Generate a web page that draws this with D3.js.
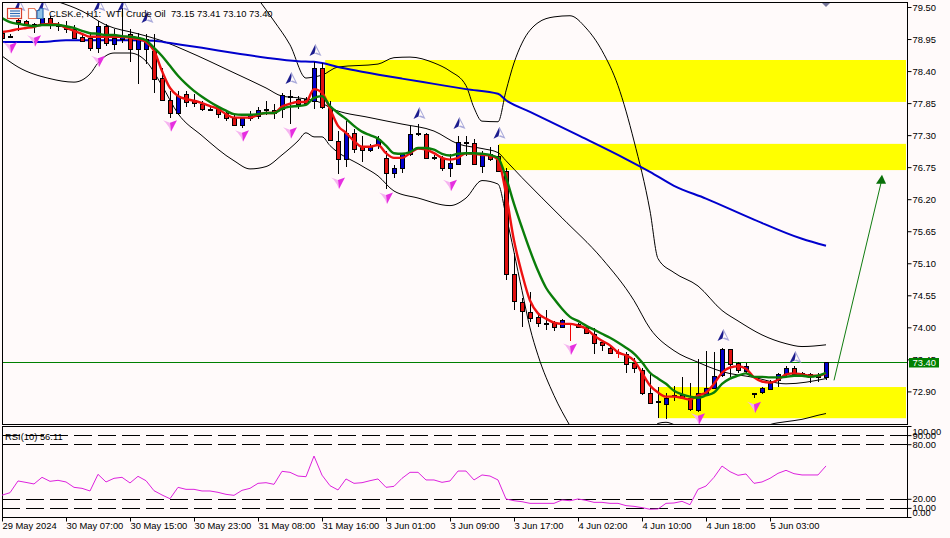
<!DOCTYPE html>
<html>
<head>
<meta charset="utf-8">
<title>CLSK.e H1</title>
<script src="https://cdn.jsdelivr.net/npm/d3@7"></script>
<style>
  html, body { margin: 0; padding: 0; background: #fffafa; }
  svg { display: block; }
  text { font-family: "Liberation Sans", sans-serif; font-size: 9.4px; fill: #000; }
</style>
</head>
<body>
<div id="chart"></div>
<script>
// candles, one per hour
const opens = [79.05,79.01,79.27,79.26,79.20,79.21,79.31,79.19,79.17,79.12,78.99,78.97,78.80,79.17,78.87,78.95,79.04,78.78,78.78,78.75,78.28,77.90,77.67,78.01,77.90,77.84,77.75,77.75,77.68,77.60,77.48,77.60,77.63,77.74,77.73,77.75,77.96,77.92,77.92,77.89,78.45,77.77,77.20,76.89,77.34,77.12,77.05,77.13,76.91,76.65,76.74,76.98,77.32,77.32,76.92,76.91,76.74,76.81,77.19,77.17,76.77,76.98,76.95,76.69,74.92,74.44,74.27,74.17,74.07,74.08,74.01,74.05,74.06,74.01,73.89,73.74,73.65,73.57,73.55,73.38,73.27,72.88,72.73,72.69,72.82,72.83,72.78,72.59,72.85,72.97,73.17,73.63,73.38,73.24,72.88,72.88,72.95,73.10,73.21,73.31,73.21,73.20,73.17,73.15];
const highs = [79.11,79.03,79.40,79.28,79.23,79.43,79.35,79.24,79.26,79.19,79.05,79.04,79.26,79.21,79.12,79.48,79.12,79.05,79.04,79.04,78.45,78.06,78.06,78.06,78.00,77.89,77.78,77.78,77.72,77.67,77.61,77.72,77.78,77.89,77.84,78.03,78.08,77.97,77.96,78.56,78.54,77.89,77.37,77.54,77.41,77.29,77.15,77.29,77.03,76.79,76.99,77.46,77.49,77.34,76.96,76.95,76.98,77.29,77.29,77.24,77.03,77.10,77.13,76.74,75.28,74.51,74.60,74.22,74.29,74.11,74.15,74.08,74.08,74.03,73.99,73.77,73.69,73.62,73.57,73.48,73.31,73.21,72.97,72.88,73.00,73.15,73.05,73.45,73.60,73.57,73.65,73.63,73.41,73.38,72.88,72.97,73.09,73.22,73.33,73.33,73.24,73.22,73.21,73.41];
const lows = [78.93,78.96,79.09,79.19,79.05,79.19,79.12,79.09,79.05,78.95,78.90,78.75,78.71,78.83,78.76,78.88,78.56,78.18,78.52,78.03,77.88,77.60,77.65,77.78,77.78,77.72,77.72,77.60,77.54,77.46,77.42,77.54,77.58,77.65,77.58,77.60,77.49,77.75,77.82,77.75,77.75,77.20,76.64,76.76,77.00,76.84,77.01,77.07,76.38,76.57,76.65,76.95,77.29,76.89,76.88,76.69,76.58,76.79,76.95,76.79,76.65,76.86,76.67,74.82,74.30,74.01,74.10,74.01,73.96,73.94,73.98,73.77,73.99,73.88,73.55,73.60,73.55,73.48,73.22,73.22,72.83,72.71,72.45,72.43,72.74,72.78,72.57,72.55,72.83,72.97,73.14,73.14,73.21,73.21,72.78,72.85,72.93,72.97,73.17,73.16,73.14,73.05,73.06,73.10];
const closes = [78.97,79.00,79.24,79.21,79.18,79.31,79.19,79.18,79.11,78.97,78.92,78.80,79.17,78.88,78.97,79.00,78.78,78.97,78.95,78.27,77.90,77.67,77.97,77.87,77.85,77.75,77.74,77.67,77.60,77.48,77.60,77.67,77.73,77.75,77.67,77.99,77.98,77.84,77.85,78.45,77.78,77.22,76.89,77.34,77.07,77.05,77.10,77.24,76.65,76.74,76.98,77.32,77.33,76.91,76.91,76.74,76.82,77.19,77.18,76.81,76.96,76.89,76.69,74.92,74.46,74.29,74.17,74.06,74.06,74.01,74.13,74.05,74.01,73.91,73.74,73.69,73.57,73.56,73.38,73.29,72.88,72.71,72.72,72.79,72.83,72.80,72.59,72.88,72.95,73.17,73.62,73.38,73.26,73.33,72.87,72.95,73.05,73.20,73.31,73.21,73.20,73.17,73.16,73.40];
const crossBarsRed = [71, 77];

// fast and slow averages, one value per candle
const fastMa = [79.07,79.09,79.12,79.14,79.16,79.20,79.21,79.20,79.14,79.09,79.04,78.99,78.99,78.99,78.99,78.99,78.97,78.95,78.90,78.75,78.40,78.11,77.97,77.92,77.89,77.85,77.80,77.75,77.66,77.60,77.60,77.60,77.65,77.68,77.68,77.79,77.84,77.87,77.87,78.09,78.03,77.75,77.46,77.34,77.20,77.10,77.10,77.13,76.99,76.91,76.91,76.99,77.07,77.05,76.99,76.91,76.88,76.91,76.99,76.98,76.96,76.95,76.88,76.29,75.49,74.92,74.46,74.24,74.15,74.08,74.06,74.06,74.03,73.98,73.86,73.77,73.69,73.57,73.52,73.43,73.22,73.00,72.88,72.81,72.81,72.79,72.76,72.83,72.88,73.03,73.22,73.31,73.33,73.29,73.14,73.07,73.05,73.10,73.19,73.21,73.19,73.17,73.17,73.21];
const slowMa = [79.31,79.24,79.21,79.19,79.17,79.19,79.19,79.19,79.17,79.14,79.09,79.05,79.04,79.02,79.02,79.00,78.99,78.97,78.93,78.80,78.66,78.49,78.32,78.18,78.06,77.96,77.87,77.79,77.72,77.66,77.65,77.65,77.66,77.68,77.68,77.75,77.79,77.80,77.82,77.94,77.97,77.80,77.68,77.58,77.46,77.36,77.30,77.24,77.12,76.99,76.98,77.01,77.08,77.08,77.05,76.98,76.95,76.98,76.99,76.99,76.98,76.96,76.91,76.57,76.12,75.71,75.32,74.97,74.68,74.49,74.32,74.18,74.11,74.03,73.96,73.89,73.82,73.74,73.65,73.55,73.40,73.22,73.12,73.03,72.91,72.85,72.81,72.79,72.83,72.88,73.03,73.12,73.17,73.21,73.15,73.15,73.14,73.14,73.15,73.17,73.17,73.15,73.17,73.22];

// long average, read at a handful of bars
const longBars = [0,5,8,12,16,19,21,25,29,33,37,39,40,42,45,50,54,58,62,63,66,72,78,81,84,88,94,100,103];
const longVals = [78.90,78.90,78.93,78.93,78.93,78.92,78.88,78.80,78.71,78.63,78.57,78.56,78.54,78.47,78.39,78.27,78.18,78.09,78.01,77.90,77.70,77.30,76.89,76.67,76.43,76.21,75.85,75.52,75.40];

// envelope lines, read at the bends
const upperBars = [32,34,36,38,39,40,42,47,49,51,54,56,58,59,60,62,63,64,65,67,69,71,73,75,77,79,81,82,84,87,90,92,95,98,100,103];
const upperVals = [79.64,79.26,78.85,78.28,78.30,78.33,78.47,78.52,78.63,78.64,78.54,78.40,78.15,77.77,77.54,77.53,78.06,78.54,78.88,79.23,79.33,79.35,79.14,78.75,78.15,77.20,76.00,75.18,74.94,74.71,74.29,74.11,73.87,73.72,73.67,73.70];
const midBars = [7,10,13,17,20,23,29,33,35,37,40,41,46,50,54,57,60,62,63,65,70,75,79,81,84,87,90,94,98,103];
const midVals = [79.59,79.43,79.19,79.04,78.92,78.75,78.37,78.11,77.97,77.94,77.85,77.77,77.60,77.49,77.37,77.15,77.07,77.00,76.86,76.57,75.88,75.18,74.46,73.98,73.60,73.40,73.24,73.14,73.03,73.12];
const lowerBars = [0,2,6,9,11,12,14,16,18,20,22,25,29,31,33,35,37,38,39,40,41,45,47,49,52,56,58,60,62,63,65,66,67,69,71,74,78,81,82,83,84,88,92,96,98,100,102,103];
const lowerVals = [78.66,78.47,78.27,78.21,78.35,78.54,78.71,78.71,78.57,78.15,77.67,77.29,76.86,76.72,76.76,76.96,77.20,77.34,77.27,77.27,77.12,76.77,76.60,76.34,76.22,76.09,76.22,76.52,76.46,75.92,74.63,73.99,73.52,72.83,72.31,71.71,71.54,72.06,72.35,72.37,72.33,71.97,71.97,72.33,72.38,72.42,72.49,72.52];

// supply / demand zones: first bar, top price, bottom price
const zoneStart = [40.4, 62.1, 82];
const zoneTop = [78.59, 77.15, 72.975];
const zoneBottom = [77.87, 76.70, 72.44];

// signal arrows
const upArrowBars = [2,5,12,15,18,36,39,52,57,62,90,99];
const upArrowVals = [79.53,79.53,79.53,79.53,79.33,78.28,78.76,77.68,77.51,77.34,73.87,73.49];
const downArrowBars = [1,4,12,21,30,36,42,48,56,71,87,94];
const downArrowVals = [78.80,78.92,78.57,77.46,77.29,77.34,76.48,76.22,76.44,73.63,72.43,72.63];

const rsiVals = [24,26.7,39.6,38,36.3,43.6,39.2,40.3,38.5,32.6,31.5,28.6,46.9,38.5,42.5,43.6,37.4,44.7,39.9,28.9,24.2,20.1,32.6,30.4,30.4,28.6,28.6,27.1,24.9,23.8,29.3,31.5,37,37.7,35.9,50.2,49.1,45,44.3,67,46,34.4,29.7,41.8,37,37.7,39.9,41.8,32.6,33.7,42.5,49.1,49.1,40.7,40.7,38.1,39.6,50.5,50.5,40.7,46.2,45,40.7,19.8,17.9,16.8,15,15,15,15,18.7,17.9,19.8,18.3,16.1,16.1,15,15,12.5,11.7,10.3,8.5,8.8,15,15.4,17.2,13.5,30.4,34,43.6,56,49.8,45.8,47.3,37,38.5,42.5,48,51.3,47.6,46.2,46.2,46.2,56.11];
const rsiLevels = [90, 80, 20, 10];
const rsiTicks = [100, 90, 80, 20, 10, 0];

const priceTicks = [79.50,78.95,78.40,77.85,77.30,76.75,76.20,75.65,75.10,74.55,74.00,73.45,72.90];
const timeBars = [0,8,16,24,32,40,48,56,64,72,80,88,96];
const timeLabels = ["29 May 2024","30 May 07:00","30 May 15:00","30 May 23:00","31 May 08:00","31 May 16:00","3 Jun 01:00","3 Jun 09:00","3 Jun 17:00","4 Jun 02:00","4 Jun 10:00","4 Jun 18:00","5 Jun 03:00"];

const lastPrice = 73.40;
const targetBars = [104, 110];
const targetVals = [73.09, 76.55];
const titleText = "CLSK.e, H1:  WTI Crude Oil  73.15 73.41 73.10 73.40";
const rsiTitle = "RSI(10) 56.11";

const width = 950, height = 538;
const left = 2, right = 907;
const mainTop = 2, mainBottom = 424, rsiTop = 426, rsiBottom = 517;

const svg = d3.select("#chart").append("svg").attr("width", width).attr("height", height);

const x = d3.scaleLinear().domain([0, 113.125]).range([left, right]);
const y = d3.scaleLinear().domain([79.5, 72.9]).range([7, 391.4]);
const yRsi = d3.scaleLinear().domain([0, 100]).range([rsiBottom, rsiTop]);

svg.append("rect").attr("width", width).attr("height", height).attr("fill", "#fffafa");

const defs = svg.append("defs");
defs.append("clipPath").attr("id", "main-clip").append("rect")
  .attr("x", left).attr("y", mainTop).attr("width", right - left).attr("height", mainBottom - mainTop);
defs.append("clipPath").attr("id", "rsi-clip").append("rect")
  .attr("x", left).attr("y", rsiTop).attr("width", right - left).attr("height", rsiBottom - rsiTop);

const main = svg.append("g").attr("clip-path", "url(#main-clip)");

// zones sit under everything
main.selectAll(".zone").data(zoneStart).enter().append("rect")
  .attr("class", "zone")
  .attr("x", (d) => x(d))
  .attr("y", (d, i) => y(zoneTop[i]))
  .attr("width", (d) => right - 1 - x(d))
  .attr("height", (d, i) => y(zoneBottom[i]) - y(zoneTop[i]))
  .attr("fill", "#ffff00");

main.append("line")
  .attr("x1", left).attr("x2", right)
  .attr("y1", Math.round(y(lastPrice)) + 0.5).attr("y2", Math.round(y(lastPrice)) + 0.5)
  .attr("stroke", "#008000");

// thin envelope lines
const sparseLine = (bars, vals) => d3.line().x((d) => x(d)).y((d, i) => y(vals[i])).curve(d3.curveMonotoneX)(bars);
[[upperBars, upperVals], [midBars, midVals], [lowerBars, lowerVals]].forEach(([bars, vals]) => {
  main.append("path").attr("d", sparseLine(bars, vals)).attr("fill", "none").attr("stroke", "#000").attr("stroke-width", 1);
});

main.append("path").attr("d", sparseLine(longBars, longVals)).attr("fill", "none").attr("stroke", "#0000cd").attr("stroke-width", 2);

// candles
const candles = main.selectAll(".candle").data(opens).enter().append("g").attr("class", "candle");
const crispX = (i) => Math.round(x(i)) + 0.5;
const lineColor = (i) => (crossBarsRed.includes(i) ? "#ee0000" : "#000");
candles.append("line")
  .attr("x1", (d, i) => crispX(i)).attr("x2", (d, i) => crispX(i))
  .attr("y1", (d, i) => y(highs[i])).attr("y2", (d, i) => y(lows[i]))
  .attr("stroke", (d, i) => lineColor(i))
  .attr("shape-rendering", "crispEdges");
candles.append("rect")
  .attr("x", (d, i) => crispX(i) - 2)
  .attr("y", (d, i) => Math.round(y(Math.max(opens[i], closes[i]))) + 0.5)
  .attr("width", 4)
  .attr("height", (d, i) => Math.max(Math.round(y(Math.min(opens[i], closes[i])) - y(Math.max(opens[i], closes[i]))), 0))
  .attr("fill", (d, i) => (closes[i] > opens[i] ? "#0000cc" : "#e01010"))
  .attr("stroke", (d, i) => lineColor(i))
  .attr("shape-rendering", "crispEdges");

// the two fast averages go over the candles
const maLine = d3.line().x((d, i) => x(i)).y((d) => y(d)).curve(d3.curveMonotoneX);
main.append("path").attr("d", maLine(fastMa)).attr("fill", "none").attr("stroke", "#ee1111").attr("stroke-width", 2.4);
main.append("path").attr("d", maLine(slowMa)).attr("fill", "none").attr("stroke", "#0a7d0a").attr("stroke-width", 2.4);

// arrows, two halves each
const upDark = "M0,-6L-6,6L-1,3.5L0,-1Z";
const upLight = "M0,-6L6,6L-1,3.5L1,2.5L3.8,3.6L0,-3.5Z";
const downLight = "M-7,-5.5L0,-3L1,6L-1,1.5L-4.5,-3.3Z";
const downDark = "M7,-5.5L0,-3L1,6Z";
const upG = main.selectAll(".up-arrow").data(upArrowBars).enter().append("g")
  .attr("class", "up-arrow")
  .attr("transform", (d, i) => `translate(${x(d) + 1.5},${y(upArrowVals[i])})`);
upG.append("path").attr("d", upDark).attr("fill", "#1c1c8e");
upG.append("path").attr("d", upLight).attr("fill", "#a9a9da");
const downG = main.selectAll(".down-arrow").data(downArrowBars).enter().append("g")
  .attr("class", "down-arrow")
  .attr("transform", (d, i) => `translate(${x(d)},${y(downArrowVals[i])})`);
downG.append("path").attr("d", downLight).attr("fill", "#f6b4f0");
downG.append("path").attr("d", downDark).attr("fill", "#e62ee0");

// clipped marker at the very top right
main.append("path")
  .attr("transform", `translate(${x(103)},2)`)
  .attr("d", "M-5,0L5,0L0,5Z").attr("fill", "#77779a");

// target arrow drawn by hand on the chart
const tx = targetBars.map((d) => x(d));
const ty = targetVals.map((d) => y(d));
svg.append("line").attr("x1", tx[0]).attr("y1", ty[0]).attr("x2", tx[1]).attr("y2", ty[1]).attr("stroke", "#107c10").attr("stroke-width", 1);
svg.append("path")
  .attr("transform", `translate(${tx[1]},${ty[1]})`)
  .attr("d", "M0,-4L-6,5L4,5Z").attr("fill", "#0a700a");

// frames
svg.append("rect").attr("x", left + 0.5).attr("y", mainTop + 0.5).attr("width", right - left).attr("height", mainBottom - mainTop)
  .attr("fill", "none").attr("stroke", "#000").attr("shape-rendering", "crispEdges");
svg.append("rect").attr("x", left + 0.5).attr("y", rsiTop + 0.5).attr("width", right - left).attr("height", rsiBottom - rsiTop)
  .attr("fill", "none").attr("stroke", "#000").attr("shape-rendering", "crispEdges");

// price axis
const priceAxis = svg.append("g").attr("transform", `translate(${right + 0.5},0)`)
  .call(d3.axisRight(y).tickValues(priceTicks).tickFormat(d3.format(".2f")).tickSize(4).tickPadding(1));
priceAxis.select(".domain").remove();

// last price tag
svg.append("rect").attr("x", 909).attr("y", 358).attr("width", 30).attr("height", 9.5).attr("fill", "#008000");
svg.append("text").attr("x", 912.5).attr("y", y(lastPrice) + 3.5).text(lastPrice.toFixed(2)).style("fill", "#fff");

// title and its two little icons
svg.append("text").attr("x", 49).attr("y", 17).text(titleText).attr("xml:space", "preserve");
const icons = svg.append("g").attr("stroke-width", 1.2);
icons.append("rect").attr("x", 7.5).attr("y", 8.5).attr("width", 14).attr("height", 10).attr("fill", "#fff").attr("stroke", "#d8402e");
[11, 13.5, 16].forEach((v) => icons.append("line").attr("x1", 10).attr("x2", 20).attr("y1", v).attr("y2", v).attr("stroke", "#2f6cb5"));
icons.append("path").attr("d", "M28.5,8.5h6l2,3v7h-8z").attr("fill", "#fff").attr("stroke", "#e67a5c");
icons.append("path").attr("d", "M37,10.5h2l1,-2h3v10h-6z").attr("fill", "#8fc2e6").attr("stroke", "#2f6cb5");

// RSI panel
const rsiG = svg.append("g").attr("clip-path", "url(#rsi-clip)");
rsiG.selectAll(".level").data(rsiLevels).enter().append("line")
  .attr("class", "level")
  .attr("x1", left).attr("x2", right)
  .attr("y1", (d) => Math.round(yRsi(d)) + 0.5).attr("y2", (d) => Math.round(yRsi(d)) + 0.5)
  .attr("stroke", "#000").attr("stroke-dasharray", "18,6");
rsiG.append("path")
  .attr("d", d3.line().x((d, i) => x(i)).y((d) => yRsi(d))(rsiVals))
  .attr("fill", "none").attr("stroke", "#dd22dd").attr("stroke-width", 1);
svg.append("text").attr("x", 5).attr("y", 440).text(rsiTitle);

const rsiAxis = svg.append("g").attr("transform", `translate(${right + 0.5},0)`)
  .call(d3.axisRight(yRsi).tickValues(rsiTicks).tickFormat(d3.format(".2f")).tickSize(4).tickPadding(1));
rsiAxis.select(".domain").remove();
// 100 and 0 are pushed back inside the panel like the terminal does
rsiAxis.selectAll(".tick text").attr("dy", (d) => (d === 100 ? "0.95em" : d === 0 ? "-0.15em" : "0.32em"));

// time axis
const timeAxis = svg.append("g").attr("transform", `translate(0,${rsiBottom + 0.5})`)
  .call(d3.axisBottom(x).tickValues(timeBars).tickFormat((d, i) => timeLabels[i]).tickSize(4).tickPadding(1));
timeAxis.select(".domain").remove();
timeAxis.selectAll(".tick text").attr("text-anchor", "start");
</script>
</body>
</html>
